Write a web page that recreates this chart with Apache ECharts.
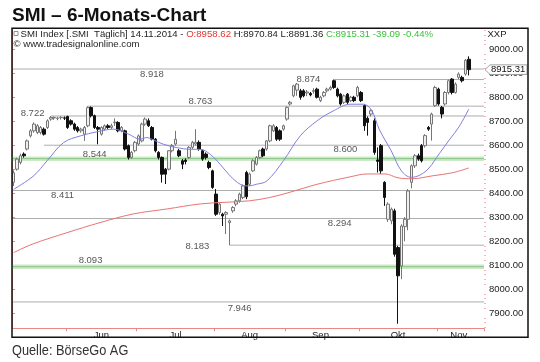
<!DOCTYPE html>
<html>
<head>
<meta charset="utf-8">
<title>SMI – 6-Monats-Chart</title>
<script src="https://cdn.jsdelivr.net/npm/echarts@6.0.0/dist/echarts.min.js"></script>
<style>
  html, body { margin: 0; padding: 0; background: #ffffff; }
  #chart { width: 540px; height: 362px; }
</style>
</head>
<body>
<div id="chart"></div>
<script>
// SMI daily candles, 9 May – 14 Nov 2014 (one entry per session)
const opens = [
  8445, 8500, 8528, 8563, 8584, 8639, 8660, 8653, 8653, 8667, 8674, 8709, 8714, 8712, 8715, 8714,
  8720, 8702, 8688, 8674, 8660, 8646, 8681, 8757, 8723, 8674, 8646, 8667, 8681, 8674, 8694, 8695,
  8660, 8660, 8598, 8549, 8577, 8605, 8618, 8688, 8702, 8674, 8625, 8570, 8549, 8500, 8500, 8577,
  8605, 8577, 8535, 8538, 8549, 8591, 8605, 8612, 8577, 8563, 8528, 8493, 8396, 8319, 8312, 8312,
  8277, 8326, 8354, 8368, 8382, 8486, 8437, 8493, 8521, 8549, 8584, 8584, 8618, 8660, 8674, 8660,
  8667, 8709, 8772, 8806, 8830, 8827, 8827, 8818, 8816, 8825, 8834, 8786, 8806, 8827, 8834, 8869,
  8834, 8813, 8779, 8813, 8786, 8800, 8806, 8820, 8765, 8712, 8730, 8702, 8538, 8598, 8445, 8291,
  8284, 8326, 8173, 8096, 8260, 8291, 8445, 8514, 8556, 8598, 8598, 8674, 8688, 8765, 8834, 8758,
  8772, 8820, 8876, 8820, 8883, 8883, 8897, 8958.62
];
const closes = [
  8485, 8542, 8556, 8556, 8618, 8660, 8688, 8681, 8674, 8646, 8702, 8716, 8716, 8713, 8716, 8713,
  8674, 8688, 8667, 8660, 8667, 8674, 8757, 8723, 8674, 8667, 8674, 8681, 8674, 8681, 8696, 8660,
  8674, 8584, 8549, 8570, 8612, 8639, 8688, 8709, 8681, 8625, 8577, 8549, 8479, 8479, 8577, 8598,
  8625, 8556, 8521, 8532, 8591, 8612, 8612, 8584, 8542, 8549, 8507, 8424, 8312, 8354, 8305, 8319,
  8284, 8340, 8368, 8396, 8430, 8385, 8480, 8535, 8549, 8577, 8556, 8618, 8681, 8681, 8625, 8625,
  8681, 8758, 8779, 8848, 8855, 8800, 8806, 8822, 8810, 8828, 8800, 8800, 8820, 8834, 8841, 8841,
  8806, 8772, 8806, 8779, 8800, 8786, 8841, 8786, 8681, 8695, 8744, 8570, 8533, 8493, 8382, 8354,
  8333, 8145, 8055, 8263, 8291, 8409, 8514, 8556, 8542, 8535, 8640, 8667, 8730, 8841, 8772, 8730,
  8820, 8869, 8820, 8855, 8897, 8869, 8954.40, 8915.31
];
const lows = [
  8430, 8494, 8520, 8548, 8578, 8632, 8652, 8646, 8645, 8640, 8668, 8702, 8706, 8704, 8707, 8705,
  8668, 8682, 8660, 8653, 8652, 8618, 8675, 8716, 8668, 8604, 8640, 8660, 8668, 8668, 8680, 8654,
  8654, 8578, 8540, 8543, 8570, 8598, 8612, 8681, 8676, 8620, 8570, 8540, 8444, 8438, 8495, 8570,
  8598, 8550, 8500, 8520, 8542, 8584, 8598, 8577, 8535, 8540, 8500, 8418, 8305, 8310, 8263, 8229,
  8183, 8318, 8345, 8360, 8375, 8375, 8430, 8488, 8515, 8542, 8550, 8577, 8612, 8655, 8618, 8618,
  8660, 8702, 8765, 8800, 8806, 8790, 8800, 8805, 8804, 8815, 8795, 8780, 8800, 8820, 8828, 8835,
  8800, 8765, 8772, 8772, 8780, 8780, 8800, 8780, 8660, 8640, 8720, 8560, 8486, 8480, 8347, 8280,
  8270, 8135, 7855, 8041, 8199, 8245, 8420, 8505, 8535, 8528, 8590, 8660, 8619, 8760, 8765, 8712,
  8765, 8812, 8812, 8815, 8876, 8862, 8890, 8891.36
];
const highs = [
  8495, 8548, 8565, 8570, 8624, 8667, 8695, 8688, 8680, 8674, 8708, 8722, 8720, 8719, 8721, 8720,
  8723, 8708, 8694, 8680, 8673, 8680, 8763, 8762, 8728, 8680, 8679, 8687, 8688, 8690, 8712, 8700,
  8680, 8665, 8603, 8576, 8618, 8645, 8694, 8716, 8712, 8680, 8630, 8575, 8553, 8505, 8580, 8605,
  8660, 8584, 8542, 8545, 8596, 8618, 8667, 8620, 8582, 8570, 8535, 8498, 8417, 8360, 8318, 8325,
  8290, 8346, 8375, 8402, 8436, 8493, 8486, 8542, 8555, 8582, 8590, 8622, 8686, 8688, 8680, 8666,
  8686, 8762, 8785, 8852, 8860, 8835, 8834, 8830, 8822, 8838, 8840, 8806, 8826, 8840, 8848, 8874,
  8840, 8818, 8812, 8818, 8806, 8806, 8848, 8826, 8770, 8720, 8750, 8712, 8591, 8605, 8450, 8362,
  8340, 8335, 8180, 8270, 8300, 8417, 8520, 8563, 8565, 8605, 8646, 8680, 8736, 8848, 8840, 8764,
  8826, 8874, 8880, 8862, 8904, 8890, 8960, 8970.84
];

// moving averages read at [session index, value]
const maShort = [
  [0, 8416], [5.9, 8472], [9.9, 8535], [14.8, 8611], [19.8, 8639], [24.7, 8656], [29.7, 8667],
  [34.1, 8646], [37.5, 8625], [39.5, 8632], [41, 8625], [44.4, 8604], [48.4, 8590], [52.3, 8583],
  [55.3, 8583], [58.3, 8562], [61.2, 8521], [64.2, 8472], [67.2, 8437], [69.5, 8430], [72, 8437],
  [75.1, 8451], [80, 8535], [85, 8639], [90, 8702], [94.8, 8743], [99.8, 8771], [103.7, 8771],
  [106.2, 8745], [108.4, 8667], [112, 8576], [115, 8493], [117.9, 8466], [120.6, 8476],
  [123.2, 8505], [126.2, 8564], [129.2, 8622], [132.1, 8677], [135, 8751]
];
const maLong = [
  [0, 8152], [5.7, 8188], [15.8, 8235], [25.6, 8277], [35.4, 8313], [45.5, 8334], [55.3, 8355],
  [63, 8362], [70, 8368], [76, 8382], [82, 8404], [90, 8437], [99.8, 8468], [104.8, 8480],
  [110.2, 8480], [114, 8464], [118.2, 8460], [124.1, 8472], [130.1, 8485], [135, 8505]
];

// support / resistance levels
const levels = [8918, 8874, 8763, 8722, 8600, 8544, 8411, 8294, 8183, 8093, 7946];
const levelFrom = [null, 95, 22, 11, 9, null, null, null, 64, null, null]; // session where a line begins
const greenLevels = [8544, 8093];

const yTicks = [7900, 8000, 8100, 8200, 8300, 8400, 8500, 8600, 8700, 8800, 8900, 9000];
const monthNames = ['Jan', 'Feb', 'Mär', 'Apr', 'Mai', 'Jun', 'Jul', 'Aug', 'Sep', 'Okt', 'Nov', 'Dez'];

// label placement for each level: horizontal slot and vertical offset in px
const levelLabelSlot = [41.5, 87.9, 55.9, 6.1, 98.9, 24.5, 15, 97.2, 55, 23.3, 67.5];
const levelLabelDy = [5, 0, -5, -3, 4, -4, 5, 5, 1, -6, 6];

// ---- calendar: trading weekdays, plus a few empty slots at the right edge
const SLOTS = 140;
const dates = [];
for (let t = Date.UTC(2014, 4, 9); dates.length < SLOTS; t += 86400000) {
  const d = new Date(t);
  const wd = d.getUTCDay();
  if (wd !== 0 && wd !== 6) dates.push(d.toISOString().slice(0, 10));
}
const monthOf = (s) => +s.slice(5, 7) - 1;

const monthStart = new Set();
const monthMid = new Set();
{
  let first = 0;
  for (let i = 1; i <= dates.length; i++) {
    if (i === dates.length || monthOf(dates[i]) !== monthOf(dates[i - 1])) {
      if (first > 0) monthMid.add(Math.floor((first + i - 1) / 2));
      if (i < dates.length) monthStart.add(i);
      first = i;
    }
  }
}

const candles = opens.map((o, i) => [o, closes[i], lows[i], highs[i]]);
const last = opens.length - 1;

const deNum = (v) => { const s = String(Math.round(v)); return s.slice(0, -3) + '.' + s.slice(-3); };

const FONT = '"Liberation Sans", Arial, Helvetica, sans-serif';
const AXIS_RED = '#ec8787';

// minor ticks on the price scale
const minorTicks = [];
for (let v = 7840; v <= 9080; v += 20) if (v % 100 !== 0) minorTicks.push(v);

const series = [];

levels.forEach((v, k) => {
  const from = levelFrom[k] === null ? 0 : levelFrom[k] + 0.5;
  const pts = [[from, v], [SLOTS, v]];
  if (greenLevels.includes(v)) {
    series.push({ type: 'line', xAxisIndex: 1, data: pts, symbol: 'none', silent: true, z: 1,
      lineStyle: { color: '#cde8c9', width: 4.5 } });
    series.push({ type: 'line', xAxisIndex: 1, data: pts, symbol: 'none', silent: true, z: 1,
      lineStyle: { color: '#88c585', width: 1 } });
  } else {
    series.push({ type: 'line', xAxisIndex: 1, data: pts, symbol: 'none', silent: true, z: 1,
      lineStyle: { color: '#adadad', width: 1 } });
  }
});

series.push({
  type: 'candlestick', xAxisIndex: 0, yAxisIndex: 0, data: candles, barWidth: 3, z: 3,
  itemStyle: { color: '#efefef', color0: '#111111', borderColor: '#767676', borderColor0: '#111111', borderWidth: 1 }
});

series.push({ type: 'line', xAxisIndex: 1, data: maShort.map(([i, v]) => [i + 0.5, v]), smooth: 0.35,
  symbol: 'none', silent: true, z: 4, lineStyle: { color: '#7f7fe0', width: 1 } });
series.push({ type: 'line', xAxisIndex: 1, data: maLong.map(([i, v]) => [i + 0.5, v]), smooth: 0.35,
  symbol: 'none', silent: true, z: 4, lineStyle: { color: '#e97474', width: 1 } });

series.push({
  type: 'scatter', xAxisIndex: 1, symbolSize: 1, silent: true, z: 5,
  itemStyle: { color: 'transparent' },
  data: levels.map((v, k) => ({
    value: [levelLabelSlot[k], v],
    label: { offset: [0, levelLabelDy[k]] }
  })),
  label: { show: true, position: 'inside', formatter: (p) => deNum(p.value[1]),
    fontFamily: FONT, fontSize: 9.5, color: '#2a2a2a' }
});

const d = dates[last];
const dateStr = d.slice(8, 10) + '.' + d.slice(5, 7) + '.' + d.slice(0, 4);
const chg = closes[last] - closes[last - 1];
const pct = chg / closes[last - 1] * 100;
const headerText =
  '{k|SMI Index [.SMI  Täglich] ' + dateStr + ' - }' +
  '{r|O:' + opens[last].toFixed(2) + '}' +
  '{k| H:' + highs[last].toFixed(2) + ' L:' + lows[last].toFixed(2) + ' }' +
  '{g|C:' + closes[last].toFixed(2) + ' ' + chg.toFixed(2) + ' ' + pct.toFixed(2) + '%}';
const hdrFont = '9.6px ' + FONT;

const chart = echarts.init(document.getElementById('chart'), null, { renderer: 'canvas', width: 540, height: 362 });

chart.setOption({
  animation: false,
  backgroundColor: '#ffffff',
  grid: { left: 12, right: 56, top: 28.5, bottom: 33.7, containLabel: false, outerBoundsMode: 'none' },
  xAxis: [
    {
      type: 'category', data: dates, boundaryGap: true, position: 'bottom',
      axisLine: { show: true, lineStyle: { color: AXIS_RED, width: 1 } },
      axisTick: { show: true, interval: (i) => monthStart.has(i), length: 3, lineStyle: { color: AXIS_RED } },
      axisLabel: { show: true, interval: (i) => monthMid.has(i), margin: 2,
        formatter: (v) => monthNames[monthOf(v)], fontFamily: FONT, fontSize: 9.5, color: '#222' },
      splitLine: { show: false }
    },
    { type: 'value', min: 0, max: SLOTS, show: false }
  ],
  yAxis: [
    {
      type: 'value', position: 'right', min: 7836, max: 9087, scale: true,
      axisLine: { show: true, lineStyle: { color: AXIS_RED, width: 1 } },
      axisTick: { show: true, customValues: yTicks, length: 3, lineStyle: { color: AXIS_RED } },
      axisLabel: { show: true, customValues: yTicks, margin: 5, padding: [8, 0, 0, 0],
        formatter: (v) => v.toFixed(2), fontFamily: FONT, fontSize: 9.5, color: '#222' },
      splitLine: { show: false }
    },
    {
      type: 'value', position: 'right', min: 7836, max: 9087,
      axisLine: { show: false },
      axisTick: { show: true, customValues: minorTicks, length: 2, lineStyle: { color: '#f3b5b5' } },
      axisLabel: { show: false }, splitLine: { show: false }
    }
  ],
  series: series,
  graphic: [
    { id: 'title', type: 'text', x: 12, y: 15.5, z: 10,
      style: { text: 'SMI – 6-Monats-Chart', font: 'bold 19px ' + FONT, fill: '#111', textVerticalAlign: 'middle' } },
    { id: 'source', type: 'text', x: 12, y: 351, scaleX: 0.88, z: 10,
      style: { text: 'Quelle: BörseGo AG', font: '14.5px ' + FONT, fill: '#333', textVerticalAlign: 'middle' } },
    { id: 'frame', type: 'rect', z: 20, silent: true,
      shape: { x: 12, y: 28.3, width: 516, height: 309 },
      style: { fill: 'none', stroke: '#111', lineWidth: 1.5 } },
    { id: 'icon', type: 'rect', z: 10, shape: { x: 14, y: 31.5, width: 4, height: 4 },
      style: { fill: 'none', stroke: '#777', lineWidth: 0.8 } },
    { id: 'header', type: 'text', x: 20.5, y: 34, z: 10,
      style: { text: headerText, textVerticalAlign: 'middle', font: hdrFont,
        rich: { k: { fill: '#1e1e1e', font: hdrFont }, r: { fill: '#e4352e', font: hdrFont }, g: { fill: '#39c239', font: hdrFont } } } },
    { id: 'copy', type: 'text', x: 13.5, y: 44, z: 10,
      style: { text: '© www.tradesignalonline.com', font: hdrFont, fill: '#1e1e1e', textVerticalAlign: 'middle' } },
    { id: 'unit', type: 'text', x: 487.5, y: 34, z: 10,
      style: { text: 'XXP', font: '9.5px ' + FONT, fill: '#222', textVerticalAlign: 'middle' } }
  ]
});

// last-price tag on the price scale
const yLast = chart.convertToPixel({ yAxisIndex: 0 }, closes[last]);
chart.setOption({
  graphic: [
    { id: 'lastTag', type: 'polygon', z: 15,
      shape: { points: [[485, yLast], [490, yLast - 4.8], [527, yLast - 4.8], [527, yLast + 4.8], [490, yLast + 4.8]] },
      style: { fill: '#ffffff', stroke: '#8a8a8a', lineWidth: 0.8 } },
    { id: 'lastTagText', type: 'text', x: 491, y: yLast, z: 16,
      style: { text: closes[last].toFixed(2), font: '9.5px ' + FONT, fill: '#111', textVerticalAlign: 'middle' } }
  ]
});
</script>
</body>
</html>
